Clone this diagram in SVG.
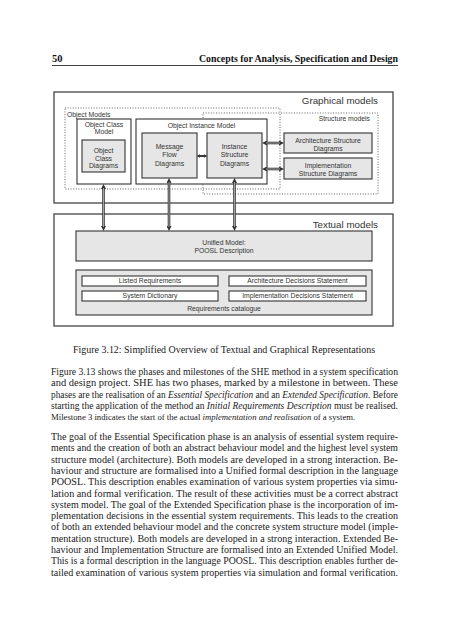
<svg xmlns="http://www.w3.org/2000/svg" width="452" height="640" viewBox="0 0 452 640">
<style>
.lbl{font-family:"Liberation Sans",Arial,sans-serif;font-size:6.8px;fill:#333;text-anchor:middle}
.big{font-family:"Liberation Sans",Arial,sans-serif;font-size:9.8px;fill:#333;text-anchor:end}
.outer{fill:#fff;stroke:#444;stroke-width:1.3}
.box{fill:#fff;stroke:#333;stroke-width:1.1}
.gbox{fill:#e6e6e6;stroke:#333;stroke-width:1.1}
.dot{fill:none;stroke:#555;stroke-width:0.9;stroke-dasharray:1 1.6}
.arr{stroke:#3a3a3a;stroke-width:2.6;fill:none;marker-start:url(#ah);marker-end:url(#ah)}
.arrs{stroke:#3a3a3a;stroke-width:2;fill:none;marker-start:url(#ahs);marker-end:url(#ahs)}
.arrc{stroke:#bbb;stroke-width:0.8;fill:none}
.body{font-family:"Liberation Serif","Times New Roman",serif;font-size:9.5px;fill:#1a1a1a}
.hdr{font-family:"Liberation Serif","Times New Roman",serif;font-size:10.5px;font-weight:bold;fill:#111}
</style>
<defs>
<marker id="ah" viewBox="0 0 6 6" refX="1.8" refY="3" markerWidth="5" markerHeight="5" markerUnits="userSpaceOnUse" orient="auto-start-reverse">
<path d="M0,0 L6,3 L0,6 z" fill="#333"/>
</marker>
<marker id="ahs" viewBox="0 0 6 6" refX="1.5" refY="3" markerWidth="3.6" markerHeight="4" markerUnits="userSpaceOnUse" orient="auto-start-reverse">
<path d="M0,0 L6,3 L0,6 z" fill="#333"/>
</marker>
</defs>
<rect width="452" height="640" fill="#fff"/>

<g id="header">
<text class="hdr" x="52" y="62">50</text>
<text class="hdr" x="398" y="62" text-anchor="end" textLength="199" lengthAdjust="spacingAndGlyphs">Concepts for Analysis, Specification and Design</text>
<line x1="52" y1="65.5" x2="398" y2="65.5" stroke="#111" stroke-width="0.8"/>
</g>

<g id="graphical-models">
<rect class="outer" x="54" y="92" width="339" height="111"/>
<text class="big" x="378" y="104">Graphical models</text>
</g>
<g id="object-models">
<rect class="dot" x="65" y="108" width="215" height="81"/>
<text class="lbl" x="67" y="116.5" style="text-anchor:start">Object Models</text>
</g>
<g id="structure-models">
<rect class="dot" x="203" y="113" width="175" height="81"/>
<text class="lbl" x="370" y="121" style="text-anchor:end">Structure models</text>
</g>
<g id="object-class-model">
<rect class="box" x="77" y="119" width="54" height="65"/>
<text class="lbl" x="104" y="127">Object Class</text>
<text class="lbl" x="104" y="134">Model</text>
</g>
<g id="object-class-diagrams">
<rect class="gbox" x="82" y="140" width="43" height="32"/>
<text class="lbl" x="103.5" y="153">Object</text>
<text class="lbl" x="103.5" y="160.7">Class</text>
<text class="lbl" x="103.5" y="168.3">Diagrams</text>
</g>
<g id="object-instance-model">
<rect class="box" x="136" y="119" width="131" height="65"/>
<text class="lbl" x="201.5" y="128">Object Instance Model</text>
</g>
<g id="message-flow-diagrams">
<rect class="gbox" x="142" y="133" width="55" height="45"/>
<text class="lbl" x="169.5" y="149">Message</text>
<text class="lbl" x="169.5" y="157.3">Flow</text>
<text class="lbl" x="169.5" y="165.6">Diagrams</text>
</g>
<g id="instance-structure-diagrams">
<rect class="gbox" x="207" y="133" width="55" height="45"/>
<text class="lbl" x="234.5" y="149">Instance</text>
<text class="lbl" x="234.5" y="157.3">Structure</text>
<text class="lbl" x="234.5" y="165.6">Diagrams</text>
</g>
<g id="architecture-structure-diagrams">
<rect class="gbox" x="284" y="133" width="88" height="20"/>
<text class="lbl" x="328" y="142.5">Architecture Structure</text>
<text class="lbl" x="328" y="150.8">Diagrams</text>
</g>
<g id="implementation-structure-diagrams">
<rect class="gbox" x="284" y="158" width="88" height="21"/>
<text class="lbl" x="328" y="167.5">Implementation</text>
<text class="lbl" x="328" y="175.8">Structure Diagrams</text>
</g>

<g id="textual-models">
<rect class="outer" x="54" y="214" width="339" height="112"/>
<text class="big" x="378" y="228">Textual models</text>
</g>
<g id="unified-model">
<rect class="gbox" x="76" y="231" width="296" height="30"/>
<text class="lbl" x="224" y="245">Unified Model:</text>
<text class="lbl" x="224" y="252.7">POOSL Description</text>
</g>
<g id="requirements-catalogue">
<rect class="gbox" x="76" y="270" width="296" height="45"/>
<text class="lbl" x="224" y="310.5">Requirements catalogue</text>
</g>
<g id="listed-requirements">
<rect class="box" x="82" y="276" width="136" height="10"/>
<text class="lbl" x="150" y="283.4">Listed Requirements</text>
</g>
<g id="architecture-decisions">
<rect class="box" x="229" y="276" width="137" height="10"/>
<text class="lbl" x="297.5" y="283.4">Architecture Decisions Statement</text>
</g>
<g id="system-dictionary">
<rect class="box" x="82" y="291" width="136" height="10"/>
<text class="lbl" x="150" y="298.4">System Dictionary</text>
</g>
<g id="implementation-decisions">
<rect class="box" x="229" y="291" width="137" height="10"/>
<text class="lbl" x="297.5" y="298.4">Implementation Decisions Statement</text>
</g>

<g id="connectors">
<line class="arr" x1="103.5" y1="187.5" x2="103.5" y2="227.5"/>
<line class="arrc" x1="103.5" y1="188" x2="103.5" y2="227"/>
<line class="arr" x1="169" y1="181.5" x2="169" y2="227.5"/>
<line class="arrc" x1="169" y1="182" x2="169" y2="227"/>
<line class="arr" x1="234.5" y1="181.5" x2="234.5" y2="227.5"/>
<line class="arrc" x1="234.5" y1="182" x2="234.5" y2="227"/>
<line class="arrs" x1="199.3" y1="156" x2="204.7" y2="156"/>
<line class="arr" x1="265.5" y1="143" x2="280.5" y2="143"/>
<line class="arrc" x1="266" y1="143" x2="280" y2="143"/>
<line class="arr" x1="265.5" y1="169" x2="280.5" y2="169"/>
<line class="arrc" x1="266" y1="169" x2="280" y2="169"/>
</g>

<g id="caption">
<text class="body" x="73" y="353" textLength="302" lengthAdjust="spacingAndGlyphs">Figure 3.12: Simplified Overview of Textual and Graphical Representations</text>
</g>

<g id="paragraph1">
<text class="body" x="51" y="375" textLength="347" lengthAdjust="spacingAndGlyphs">Figure 3.13 shows the phases and milestones of the SHE method in a system specification</text>
<text class="body" x="51" y="386.3" textLength="347" lengthAdjust="spacingAndGlyphs">and design project.  SHE has two phases, marked by a milestone in between.  These</text>
<text class="body" x="51" y="397.6" textLength="347" lengthAdjust="spacingAndGlyphs">phases are the realisation of an <tspan font-style="italic">Essential Specification</tspan> and an <tspan font-style="italic">Extended Specification</tspan>.  Before</text>
<text class="body" x="51" y="408.9" textLength="347" lengthAdjust="spacingAndGlyphs">starting the application of the method an <tspan font-style="italic">Initial Requirements Description</tspan> must be realised.</text>
<text class="body" x="51" y="420.2" style="font-size:8.7px">Milestone 3 indicates the start of the actual <tspan font-style="italic">implementation and realisation</tspan> of a system.</text>
</g>

<g id="paragraph2">
<text class="body" x="51" y="440" textLength="347" lengthAdjust="spacingAndGlyphs">The goal of the Essential Specification phase is an analysis of essential system require-</text>
<text class="body" x="51" y="451.3" textLength="347" lengthAdjust="spacingAndGlyphs">ments and the creation of both an abstract behaviour model and the highest level system</text>
<text class="body" x="51" y="462.6" textLength="347" lengthAdjust="spacingAndGlyphs">structure model (architecture).  Both models are developed in a strong interaction.  Be-</text>
<text class="body" x="51" y="473.9" textLength="347" lengthAdjust="spacingAndGlyphs">haviour and structure are formalised into a Unified formal description in the language</text>
<text class="body" x="51" y="485.2" textLength="347" lengthAdjust="spacingAndGlyphs">POOSL. This description enables examination of various system properties via simu-</text>
<text class="body" x="51" y="496.5" textLength="347" lengthAdjust="spacingAndGlyphs">lation and formal verification.  The result of these activities must be a correct abstract</text>
<text class="body" x="51" y="507.8" textLength="347" lengthAdjust="spacingAndGlyphs">system model.  The goal of the Extended Specification phase is the incorporation of im-</text>
<text class="body" x="51" y="519.1" textLength="347" lengthAdjust="spacingAndGlyphs">plementation decisions in the essential system requirements.  This leads to the creation</text>
<text class="body" x="51" y="530.4" textLength="347" lengthAdjust="spacingAndGlyphs">of both an extended behaviour model and the concrete system structure model (imple-</text>
<text class="body" x="51" y="541.7" textLength="347" lengthAdjust="spacingAndGlyphs">mentation structure).  Both models are developed in a strong interaction.  Extended Be-</text>
<text class="body" x="51" y="553" textLength="347" lengthAdjust="spacingAndGlyphs">haviour and Implementation Structure are formalised into an Extended Unified Model.</text>
<text class="body" x="51" y="564.3" textLength="347" lengthAdjust="spacingAndGlyphs">This is a formal description in the language POOSL. This description enables further de-</text>
<text class="body" x="51" y="575.6" textLength="347" lengthAdjust="spacingAndGlyphs">tailed examination of various system properties via simulation and formal verification.</text>
</g>
</svg>
